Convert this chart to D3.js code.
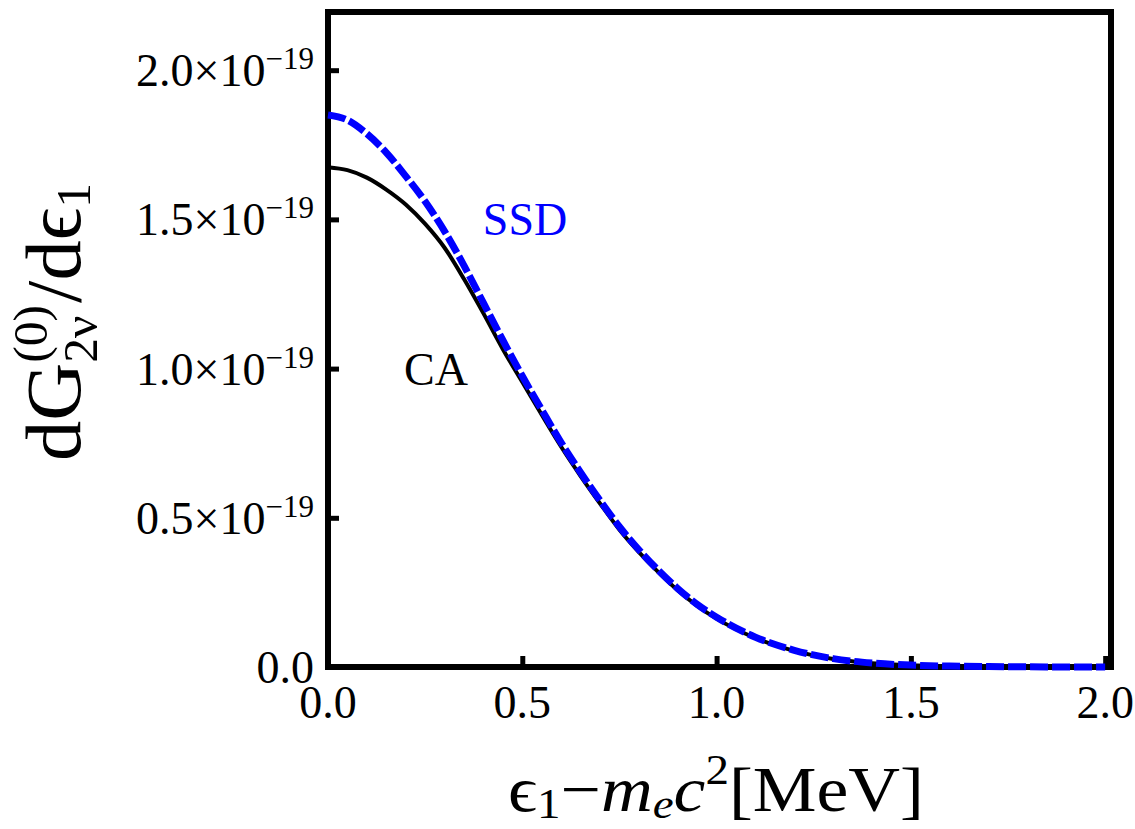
<!DOCTYPE html>
<html>
<head>
<meta charset="utf-8">
<script src="https://cdn.jsdelivr.net/npm/d3@7"></script>
<style>
  body { margin: 0; background: #ffffff; }
  text { font-family: "Liberation Serif", "DejaVu Serif", serif; }
</style>
</head>
<body>
<div id="area"></div>
<script>
// energy grid (MeV) and the two spectra (units of 1e-19)
var xValues = [0, 0.05, 0.1, 0.15, 0.2, 0.25, 0.3, 0.35, 0.4, 0.45, 0.5, 0.55, 0.6, 0.65, 0.7, 0.75,
               0.8, 0.85, 0.9, 0.95, 1.0, 1.1, 1.2, 1.3, 1.4, 1.5, 1.6, 1.7, 1.8, 1.9, 2.0];
var caValues = [1.675, 1.665, 1.64, 1.60, 1.55, 1.485, 1.405, 1.30, 1.185, 1.065, 0.955, 0.845, 0.738,
                0.64, 0.548, 0.46, 0.385, 0.318, 0.257, 0.205, 0.162, 0.097, 0.054, 0.027, 0.013,
                0.006, 0.0028, 0.0012, 0.0005, 0.0002, 0.0];
var ssdValues = [1.85, 1.833, 1.787, 1.724, 1.645, 1.56, 1.46, 1.345, 1.22, 1.095, 0.975, 0.862, 0.752,
                 0.652, 0.558, 0.47, 0.393, 0.324, 0.263, 0.21, 0.167, 0.10, 0.056, 0.028, 0.0135,
                 0.0063, 0.003, 0.0013, 0.0005, 0.0002, 0.0];

var xTicks = [0, 0.5, 1.0, 1.5, 2.0];
var xTickLabels = ["0.0", "0.5", "1.0", "1.5", "2.0"];
var yTicks = [0, 0.5, 1.0, 1.5, 2.0];
var yTickLabels = ["0.0", "0.5", "1.0", "1.5", "2.0"];
var yExponent = "\u221219";

var width = 1135;
var height = 829;

// plot frame
var frame = { left: 328, right: 1111, top: 12, bottom: 667 };

var svg = d3.select("#area").append("svg")
            .attr("width", width)
            .attr("height", height)
            .style("background", "#ffffff");

var xScale = d3.scaleLinear()
               .domain([0, 2.015])
               .range([frame.left, frame.right]);

var yScale = d3.scaleLinear()
               .domain([0, 2.195])
               .range([frame.bottom, frame.top]);

// ticks point inward, labels are drawn by hand below
var xAxis = d3.axisBottom(xScale).tickValues(xTicks).tickSize(-11).tickFormat("");
var yAxis = d3.axisLeft(yScale).tickValues(yTicks).tickSize(-11).tickFormat("");

svg.append("g")
   .attr("class", "x_axis")
   .attr("transform", "translate(0," + frame.bottom + ")")
   .call(xAxis);
svg.append("g")
   .attr("class", "y_axis")
   .attr("transform", "translate(" + frame.left + ",0)")
   .call(yAxis);

svg.selectAll(".domain").remove();
svg.selectAll(".tick line")
   .attr("stroke", "#000")
   .attr("stroke-width", 5);

svg.append("rect")
   .attr("x", frame.left)
   .attr("y", frame.top)
   .attr("width", frame.right - frame.left)
   .attr("height", frame.bottom - frame.top)
   .attr("fill", "none")
   .attr("stroke", "#000")
   .attr("stroke-width", 6);

// x tick labels
svg.append("g").selectAll("text")
   .data(xTicks)
   .enter().append("text")
   .attr("x", function(d) { return xScale(d); })
   .attr("y", frame.bottom + 51)
   .attr("text-anchor", "middle")
   .attr("font-size", 46)
   .text(function(d, i) { return xTickLabels[i]; });

// y tick labels with the power of ten
var yLab = svg.append("g").selectAll("text")
   .data(yTicks)
   .enter().append("text")
   .attr("x", 314)
   .attr("y", function(d) { return yScale(d) + 16; })
   .attr("text-anchor", "end")
   .attr("font-size", 46);

yLab.append("tspan")
    .text(function(d, i) { return d === 0 ? yTickLabels[i] : yTickLabels[i] + "\u00d710"; });
yLab.filter(function(d) { return d !== 0; })
    .append("tspan")
    .attr("dy", -17)
    .attr("font-size", 31)
    .text(yExponent);

// curves
var line = d3.line()
             .x(function(d) { return xScale(d[0]); })
             .y(function(d) { return yScale(d[1]); })
             .curve(d3.curveMonotoneX);

svg.append("path")
   .datum(xValues.map(function(x, i) { return [x, caValues[i]]; }))
   .attr("class", "line")
   .attr("fill", "none")
   .attr("stroke", "#000")
   .attr("stroke-width", 4)
   .attr("d", line);

svg.append("path")
   .datum(xValues.map(function(x, i) { return [x, ssdValues[i]]; }))
   .attr("class", "line")
   .attr("fill", "none")
   .attr("stroke", "#0000ff")
   .attr("stroke-width", 7)
   .attr("stroke-dasharray", "18,4")
   .attr("d", line);

// curve labels
svg.append("text")
   .attr("x", 525).attr("y", 235)
   .attr("text-anchor", "middle")
   .attr("font-size", 46)
   .attr("fill", "#0000ff")
   .text("SSD");

svg.append("text")
   .attr("x", 436).attr("y", 385)
   .attr("text-anchor", "middle")
   .attr("font-size", 46)
   .attr("fill", "#000")
   .text("CA");

// stretch a title along its reading direction so it spans a given length
function fitTitle(sel, cx, cy, len, rot) {
  var bb = sel.node().getBBox();
  var k = len / bb.width;
  var mid = bb.x + bb.width / 2;
  sel.attr("transform", "translate(" + cx + "," + cy + ") rotate(" + rot + ") scale(" + k + ",1) translate(" + (-mid) + ",0)");
}

// x axis title
var xt = svg.append("text")
   .attr("x", 0).attr("y", 0)
   .attr("font-size", 64);
xt.append("tspan").text("\u03f5");
xt.append("tspan").attr("font-size", 42).attr("dy", 7).text("1");
xt.append("tspan").attr("dy", -7).text("\u2212");
xt.append("tspan").attr("font-style", "italic").text("m");
xt.append("tspan").attr("font-style", "italic").attr("font-size", 42).attr("dy", 7).text("e");
xt.append("tspan").attr("font-style", "italic").attr("dy", -7).text("c");
xt.append("tspan").attr("font-size", 42).attr("dy", -27).text("2");
xt.append("tspan").attr("dy", 27).text("[MeV]");
fitTitle(xt, 716, 811, 416, 0);

// y axis title, sub and superscript stacked after G
var tmp = svg.append("text").attr("font-size", 48).text("(0)");
var supW = tmp.node().getComputedTextLength();
tmp.text("2\u03bd");
var subW = tmp.node().getComputedTextLength();
tmp.remove();

var yt = svg.append("text")
   .attr("x", 0).attr("y", 0)
   .attr("font-size", 78);
yt.append("tspan").text("dG");
yt.append("tspan").attr("font-size", 48).attr("dy", 17).text("2\u03bd");
yt.append("tspan").attr("font-size", 48).attr("dx", -subW).attr("dy", -50).text("(0)");
yt.append("tspan").attr("dx", Math.max(0, subW - supW) + 2).attr("dy", 33).text("/d\u03f5");
yt.append("tspan").attr("font-size", 48).attr("dy", 10).text("1");
fitTitle(yt, 80, 322, 278, -90);
</script>
</body>
</html>
